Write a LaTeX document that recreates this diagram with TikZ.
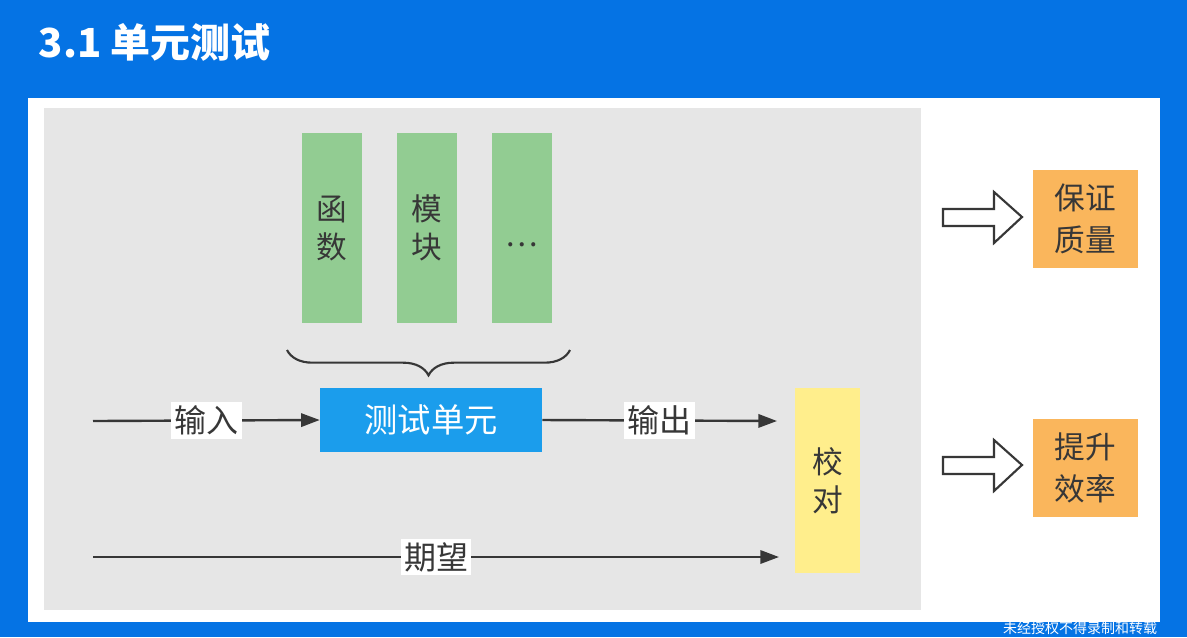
\documentclass[tikz,border=0pt]{standalone}
\usepackage{fontspec}
\setmainfont{Noto Sans CJK SC}
\usetikzlibrary{arrows.meta,decorations.pathreplacing}
\definecolor{bgblue}{RGB}{5,115,228}
\definecolor{panelgray}{RGB}{230,230,230}
\definecolor{boxgreen}{RGB}{146,204,146}
\definecolor{unitblue}{RGB}{27,157,236}
\definecolor{checkyellow}{RGB}{255,238,140}
\definecolor{resorange}{RGB}{250,182,92}
\definecolor{ink}{RGB}{55,55,55}
\tikzset{
  greenbox/.style={fill=boxgreen, minimum width=45pt, minimum height=142.5pt, inner sep=0pt,
    font=\fontsize{23pt}{28.5pt}\selectfont, text=ink, align=center},
  unitbox/.style={fill=unitblue, minimum width=166.5pt, minimum height=48pt, inner sep=0pt,
    font=\fontsize{25pt}{28pt}\selectfont, text=white},
  checkbox/.style={fill=checkyellow, minimum width=48.75pt, minimum height=138.75pt, inner sep=0pt,
    font=\fontsize{23pt}{28.5pt}\selectfont, text=ink, align=center},
  resbox/.style={fill=resorange, minimum width=78.75pt, minimum height=73.5pt, inner sep=0pt,
    font=\fontsize{23pt}{31.5pt}\selectfont, text=ink, align=center},
  flow/.style={draw=ink, line width=1.8pt, -{Triangle[length=14pt,width=10pt]}},
  lbl/.style={fill=white, font=\fontsize{24pt}{28pt}\selectfont, text=ink, inner sep=2.5pt},
  hollow/.style={draw=ink, line width=1.6pt, fill=white, line join=miter},
}
\begin{document}
\begin{tikzpicture}[x=0.75pt,y=-0.75pt]
\useasboundingbox (0,0) rectangle (1187,637);
\fill[bgblue] (0,0) rectangle (1187,637);
\node[anchor=west, text=white, font=\fontsize{30pt}{34pt}\selectfont\bfseries] (title) at (34,42) {3.1 单元测试};
\fill[white] (28,98) rectangle (1160,622);
\fill[panelgray] (44,108) rectangle (921,610);

\node[greenbox] (func) at (332,228) {函\\数};
\node[greenbox] (mod) at (427,228) {模\\块};
\node[greenbox] (more) at (522,228) {\raisebox{-14pt}[0pt][0pt]{…}};

\draw[ink, line width=1.6pt, decorate, decoration={brace, amplitude=19pt}] (570,350) -- (287,350);

\node[unitbox] (unit) at (431,420) {测试单元};
\node[checkbox] (check) at (827.5,480.5) {校\\对};

\coordinate (inS) at (93,421);
\coordinate (outE) at (777,421);
\coordinate (expS) at (93,557);
\coordinate (expE) at (779,557);

\draw[flow] (inS) -- node[lbl] (inL) {输入} (unit.west);
\draw[flow] (unit.east) -- node[lbl] (outL) {输出} (outE);
\draw[flow] (expS) -- node[lbl] (expL) {期望} (expE);

\draw[hollow] (943,209) -- (994,209) -- (994,192) -- (1022,217) -- (994,243) -- (994,226) -- (943,226) -- cycle;
\draw[hollow] (943,457) -- (994,457) -- (994,440) -- (1022,465) -- (994,491) -- (994,474) -- (943,474) -- cycle;

\node[resbox] (quality) at (1085.5,219) {保证\\质量};
\node[resbox] (effic) at (1085.5,467.5) {提升\\效率};

\node[anchor=south, inner sep=0pt, text=white, font=\fontsize{10.5pt}{12pt}\selectfont] (wm) at (1080,635) {未经授权不得录制和转载};
\end{tikzpicture}
\end{document}
